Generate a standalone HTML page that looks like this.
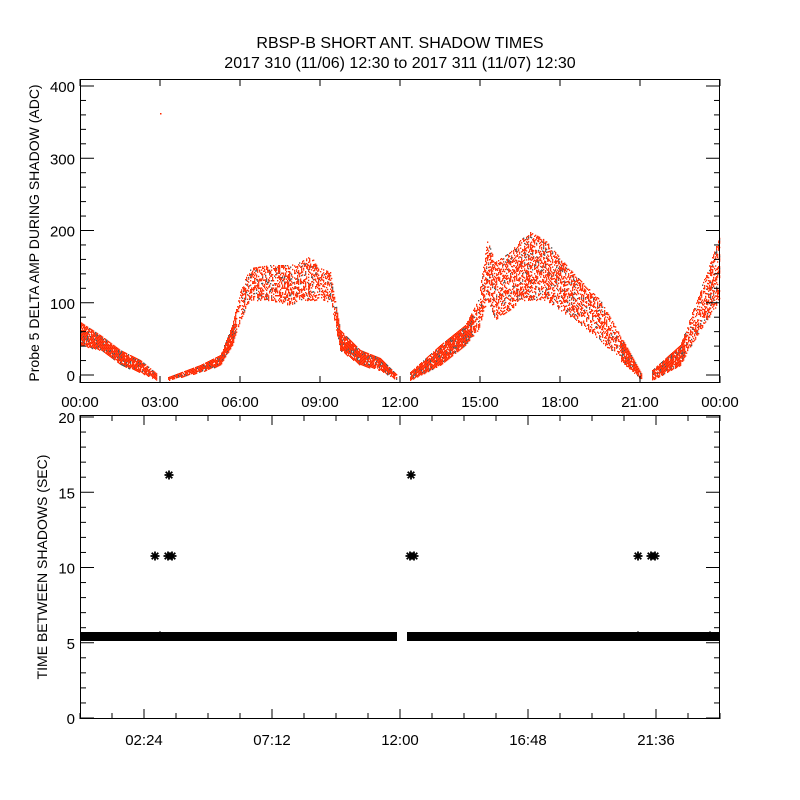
<!DOCTYPE html>
<html><head><meta charset="utf-8"><style>
html,body{margin:0;padding:0;background:#fff;}
svg{display:block;font-family:"Liberation Sans",sans-serif;}
</style></head><body>
<svg id="s" width="800" height="800" xmlns="http://www.w3.org/2000/svg">
<rect width="800" height="800" fill="#fff"/>
<text x="400" y="48" font-size="16" text-anchor="middle">RBSP-B SHORT ANT. SHADOW TIMES</text>
<text x="400" y="68" font-size="16" text-anchor="middle">2017 310 (11/06) 12:30 to 2017 311 (11/07) 12:30</text>
<g id="gtop"></g>
<g id="gbot"></g>
<text transform="translate(39,233) rotate(-90)" font-size="14" text-anchor="middle">Probe 5 DELTA AMP DURING SHADOW (ADC)</text>
<text transform="translate(47,567) rotate(-90)" font-size="14" text-anchor="middle">TIME BETWEEN SHADOWS (SEC)</text>
</svg>
<script>
(function(){
var NS="http://www.w3.org/2000/svg";
function el(p,t,a,txt){var e=document.createElementNS(NS,t);for(var k in a)e.setAttribute(k,a[k]);if(txt!==undefined)e.textContent=txt;p.appendChild(e);return e;}
var gt=document.getElementById('gtop'),gb=document.getElementById('gbot');
var seed=7;function rnd(){seed=(seed*16807)%2147483647;return seed/2147483647;}
var env=[[80,322,345],[100,335,350],[120,350,365],[140,360,372],[157,374,380],null,[168,377,380],[200,365,372],[220,355,365],[232,325,345],[240,290,320],[250,268,300],[270,265,300],[290,265,305],[300,262,300],[310,256,300],[320,268,300],[330,272,302],[340,330,350],[360,350,365],[380,358,370],[397,375,380],null,[410,372,380],[440,345,365],[465,325,345],[478,300,330],[487,240,300],[495,262,320],[510,252,310],[520,240,300],[530,232,300],[545,240,300],[560,258,310],[575,275,320],[600,300,340],[620,335,360],[642,375,380],null,[652,370,380],[680,345,365],[700,290,330],[720,235,300]];
var segs=[],cur=[];env.forEach(function(p){if(p===null){segs.push(cur);cur=[];}else cur.push(p);});segs.push(cur);
segs.forEach(function(s){for(var i=0;i<s.length-1;i++){var a=s[i],b=s[i+1];for(var x=a[0];x<b[0];x+=1){var t=(x-a[0])/(b[0]-a[0]);var y1=a[1]+(b[1]-a[1])*t,y2=a[2]+(b[2]-a[2])*t;var h=y2-y1;var dense=h<25?0.9:0.45;for(var y=y1;y<y2;y+=1.5){if(rnd()<dense){var c=rnd()<0.1?'#555':'#ff2a00';el(gt,'rect',{x:x,y:y.toFixed(1),width:1.3,height:1.4,fill:c});}}}}});
el(gt,'rect',{x:160,y:113,width:1.5,height:1.5,fill:'#ff2a00'});
el(gt,'rect',{x:80.5,y:79.5,width:639,height:303,fill:'none',stroke:'#000','stroke-width':1});
function yT(v){return 375-v*0.7225;}
for(var v=0;v<=400;v+=20){var y=yT(v),L=(v%100==0)?14:6;el(gt,'line',{x1:80,x2:80+L,y1:y,y2:y,stroke:'#000'});el(gt,'line',{x1:720,x2:720-L,y1:y,y2:y,stroke:'#000'});if(v%100==0)el(gt,'text',{x:75,y:y+6,'font-size':'15','text-anchor':'end'},String(v));}
var tl=['00:00','03:00','06:00','09:00','12:00','15:00','18:00','21:00','00:00'];
for(var i=0;i<=8;i++){var x=80+i*80;el(gt,'line',{x1:x,x2:x,y1:383,y2:376,stroke:'#000'});el(gt,'line',{x1:x,x2:x,y1:79,y2:86,stroke:'#000'});el(gt,'text',{x:x,y:407,'font-size':'15','text-anchor':'middle'},tl[i]);}
function yB(v){return 718-v*15.05;}
el(gb,'rect',{x:80.5,y:415.5,width:639,height:303,fill:'none',stroke:'#000'});
for(var v=0;v<=20;v++){var y=yB(v),L=(v%5==0)?14:6;el(gb,'line',{x1:80,x2:80+L,y1:y,y2:y,stroke:'#000'});el(gb,'line',{x1:720,x2:720-L,y1:y,y2:y,stroke:'#000'});if(v%5==0)el(gb,'text',{x:75,y:y+6,'font-size':'15','text-anchor':'end'},String(v));}
for(var i=0;i<=20;i++){var x=80+i*32,L=(i%4==2)?10:6;el(gb,'line',{x1:x,x2:x,y1:719,y2:719-L,stroke:'#000'});el(gb,'line',{x1:x,x2:x,y1:415,y2:415+L,stroke:'#000'});}
var bl=['02:24','07:12','12:00','16:48','21:36'];
for(var i=0;i<5;i++)el(gb,'text',{x:144+i*128,y:745,'font-size':'15','text-anchor':'middle'},bl[i]);
el(gb,'rect',{x:81,y:632,width:316,height:9,fill:'#000'});
el(gb,'rect',{x:407,y:632,width:312,height:9,fill:'#000'});
function star(x,y){var g=el(gb,'g',{stroke:'#000','stroke-width':1.8});el(g,'line',{x1:x-4.5,x2:x+4.5,y1:y,y2:y});el(g,'line',{x1:x,x2:x,y1:y-4.5,y2:y+4.5});el(g,'line',{x1:x-3.3,x2:x+3.3,y1:y-3.3,y2:y+3.3});el(g,'line',{x1:x-3.3,x2:x+3.3,y1:y+3.3,y2:y-3.3});}
[[155,556],[168,556],[172,556],[169,475],[411,475],[410,556],[414,556],[638,556],[651,556],[655,556],[160,636],[638,636],[710,636]].forEach(function(p){star(p[0],p[1]);});
})();
</script>
</body></html>
